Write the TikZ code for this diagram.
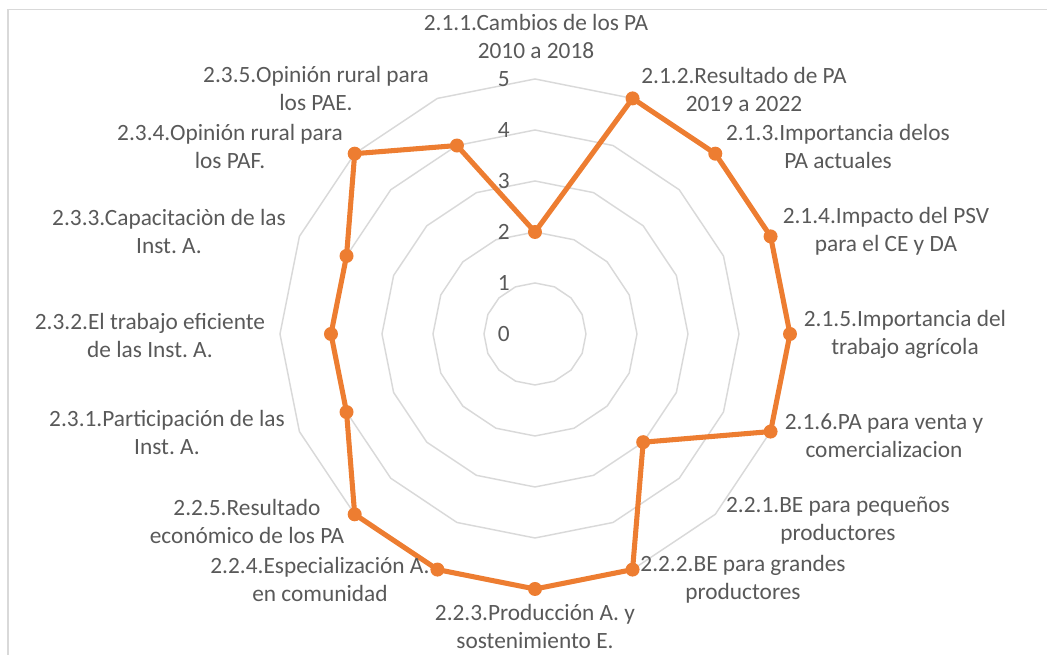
\documentclass[tikz,border=0pt]{standalone}
\usepackage{fontspec}
\setmainfont{Carlito}
\usepackage{tikz}
\frenchspacing

\definecolor{gridgray}{HTML}{D9D9D9}
\definecolor{txtgray}{HTML}{595959}
\definecolor{serieorange}{HTML}{ED7D31}

\tikzset{
  ring/.style={draw=gridgray, line width=1.1pt},
  lbl/.style={text=txtgray, align=center, inner sep=0pt, font=\fontsize{17.5}{21}\selectfont},
  scalelbl/.style={text=txtgray, anchor=east, inner sep=0pt, font=\fontsize{17.5}{21}\selectfont},
  serie/.style={draw=serieorange, line width=3.8pt, line join=round},
  datadot/.style={circle, fill=serieorange, inner sep=0pt, minimum size=10.5pt}
}

\begin{document}
\begin{tikzpicture}[x=0.75pt,y=0.75pt]
    \useasboundingbox (-535,-321) rectangle (512,334);
    \draw[gridgray, line width=1.1pt] (-527,-321) -- (-527,324.5) -- (512,324.5);
    % rings 1 to 5
    \foreach \r in {1,...,5}
        \draw[ring] (90:{51*\r}) \foreach \k in {1,...,15}{ -- ({90-22.5*\k}:{51*\r})} -- cycle;
    % scale
    \foreach \v in {0,...,5}
        \node[scalelbl] (s\v) at (-25,{51*\v}) {\v};
    % data
    \foreach \v [count=\k from 0] in {2,5,5,5,5,5,3,5,5,5,5,4,4,4,5,4}
        \coordinate (d\k) at ({90-22.5*\k}:{51*\v});
    \draw[serie] (d0) \foreach \k in {1,...,15}{ -- (d\k)} -- cycle;
    \foreach \k in {0,...,15}
        \node[datadot] (p\k) at (d\k) {};
    % category labels
    \node[lbl] (c211) at (1,298) {2.1.1.Cambios de los PA\\2010 a 2018};
    \node[lbl] (c212) at (209,245) {2.1.2.Resultado de PA\\2019 a 2022};
    \node[lbl] (c213) at (303,188) {2.1.3.Importancia delos\\PA actuales};
    \node[lbl] (c214) at (351,102.5) {2.1.4.Impacto del PSV\\para el CE y DA};
    \node[lbl] (c215) at (370,0) {2.1.5.Importancia del\\trabajo agrícola};
    \node[lbl] (c216) at (349,-102) {2.1.6.PA para venta y\\comercializacion};
    \node[lbl] (c221) at (303,-187) {2.2.1.BE para pequeños\\productores};
    \node[lbl] (c222) at (208,-245) {2.2.2.BE para grandes\\productores};
    \node[lbl] (c223) at (0,-292) {2.2.3.Producción A. y\\sostenimiento E.};
    \node[lbl] (c224) at (-215,-245) {2.2.4.Especialización A.\\en comunidad};
    \node[lbl] (c225) at (-288,-187) {2.2.5.Resultado\\económico de los PA};
    \node[lbl] (c231) at (-368,-98) {2.3.1.Participación de las\\Inst. A.};
    \node[lbl] (c232) at (-385,-1) {2.3.2.El trabajo eficiente\\de las Inst. A.};
    \node[lbl] (c233) at (-366,102.5) {2.3.3.Capacitaciòn de las\\Inst. A.};
    \node[lbl] (c234) at (-305,188) {2.3.4.Opinión rural para\\los PAF.};
    \node[lbl] (c235) at (-219,245.5) {2.3.5.Opinión rural para\\los PAE.};
\end{tikzpicture}
\end{document}
